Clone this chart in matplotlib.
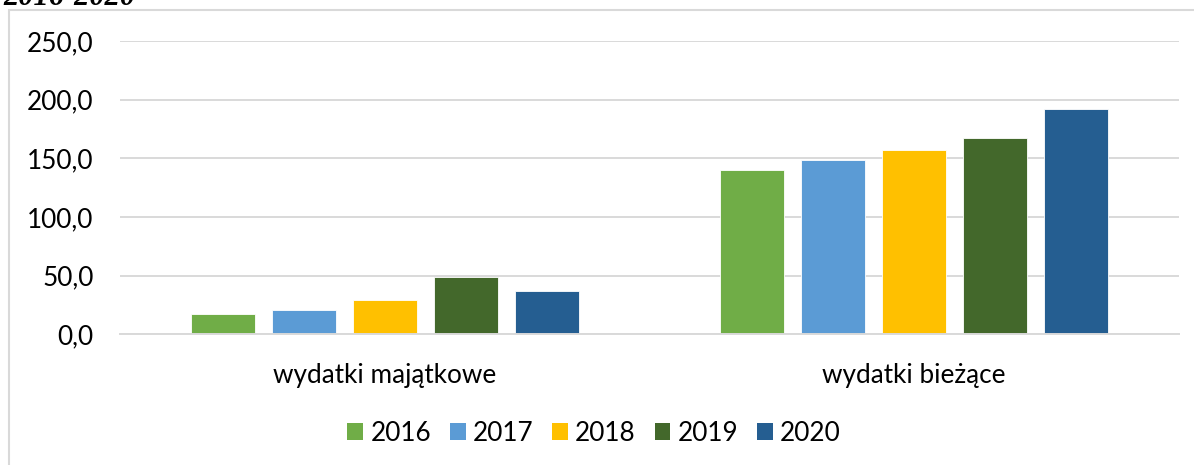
import matplotlib
matplotlib.use("Agg")
import matplotlib.pyplot as plt
import numpy as np
from matplotlib.patches import Rectangle, Patch

categories = ["wydatki majątkowe", "wydatki bieżące"]
years = ["2016", "2017", "2018", "2019", "2020"]
values = {
    "2016": [17.4, 140.2],
    "2017": [20.3, 148.2],
    "2018": [29.6, 157.3],
    "2019": [49.0, 167.0],
    "2020": [36.9, 192.2],
}
colors = ["#70AD47", "#5B9BD5", "#FFC000", "#43682B", "#255E91"]
yticks = [0, 50, 100, 150, 200, 250]
ytick_labels = ["0,0", "50,0", "100,0", "150,0", "200,0", "250,0"]

plt.rcParams['font.family'] = ['Lato', 'DejaVu Sans']
FS = 18.8

W, H = 1194, 465
fig = plt.figure(figsize=(W / 100, H / 100), dpi=100)
ax = fig.add_axes([120 / W, 1 - 334.3 / H, (1179 - 120) / W, (334.3 - 41) / H])

# chart border
fig.patches.append(Rectangle((8.5 / W, -0.1), 1.2, 1 - 10 / H + 0.1, transform=fig.transFigure,
                             fill=False, edgecolor="#D9D9D9", linewidth=1.5, zorder=0))

# cut-off title (as in the reference)
fig.text(3 / W, 1 - 5 / H, "2016-2020", fontsize=22, fontweight="bold", fontstyle="italic",
         family="Liberation Serif", va="baseline", ha="left")

x = np.arange(len(categories))
step = 0.153
width = 0.121
for i, (yr, c) in enumerate(zip(years, colors)):
    ax.bar(x + (i - 2) * step, values[yr], width=width, color=c, edgecolor="white",
           linewidth=0.6, zorder=3, label=yr)

ax.set_xlim(-0.5, 1.5)
ax.set_ylim(0, 250)
ax.set_yticks(yticks)
ax.set_yticklabels(ytick_labels, fontsize=FS)
ax.set_xticks(x)
ax.set_xticklabels(categories, fontsize=FS)
ax.tick_params(axis="both", length=0, colors="#000000")
ax.tick_params(axis="y", pad=19)
ax.tick_params(axis="x", pad=21)
ax.grid(axis="y", color="#D9D9D9", linewidth=1.4, zorder=0)
for s in ["top", "right", "left"]:
    ax.spines[s].set_visible(False)
ax.spines["bottom"].set_color("#D9D9D9")
ax.spines["bottom"].set_linewidth(1.4)
ax.spines["bottom"].set_zorder(4)

handles = [Patch(facecolor=c, edgecolor="none") for c in colors]
fig.legend(handles, years, loc="center", bbox_to_anchor=(594 / W, 1 - 433 / H), ncol=5,
           frameon=False, fontsize=FS, handlelength=0.61, handleheight=0.61,
           handletextpad=0.27, columnspacing=0.72)

fig.savefig("out.png", dpi=100)
